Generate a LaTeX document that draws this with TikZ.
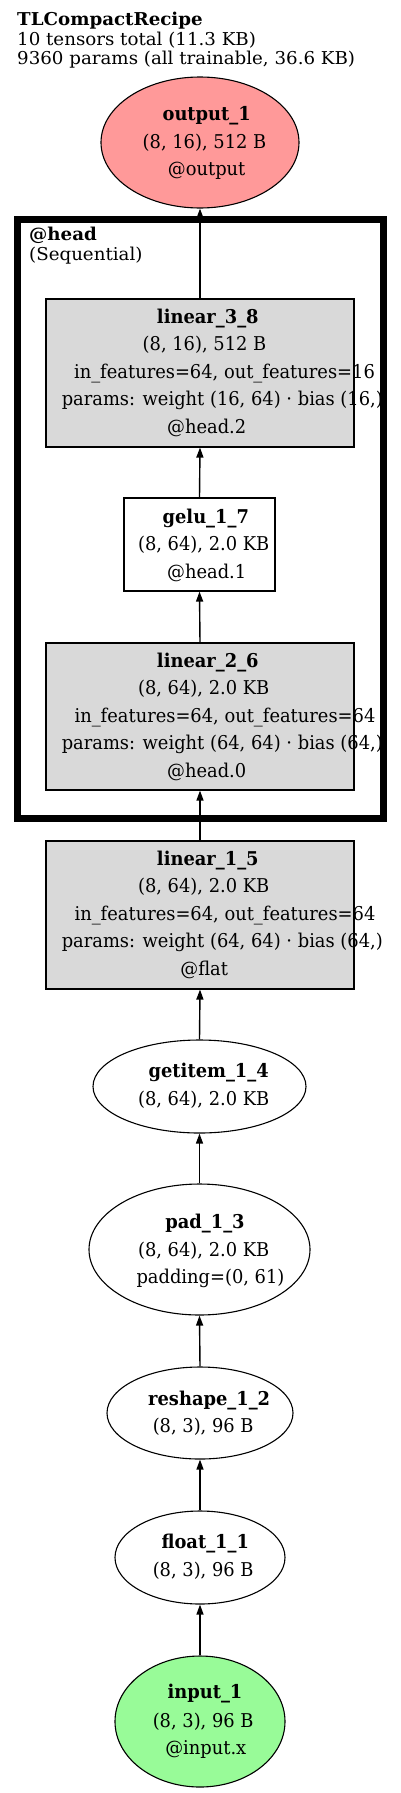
\documentclass[tikz,border=0pt]{standalone}
\usepackage{fontspec}
\setmainfont{DejaVu Serif}[FakeStretch=0.94]
\newfontfamily\titlefont{DejaVu Serif}[FakeStretch=1.03]
\usetikzlibrary{shapes.geometric,arrows.meta}
\definecolor{outfill}{HTML}{FF9999}
\definecolor{infill}{HTML}{98FB98}
\definecolor{modfill}{HTML}{D9D9D9}
\tikzset{
  lbl/.style={anchor=base, inner sep=0pt, font=\fontsize{19}{22}\selectfont},
  ttl/.style={anchor=base west, inner sep=0pt, font=\titlefont\fontsize{17.7}{20}\selectfont},
  oval/.style={ellipse, draw, line width=1.1pt, inner sep=0pt},
  box/.style={rectangle, draw, line width=1.1pt, inner sep=0pt},
  edge/.style={line width=1.4pt, -{Triangle[length=10pt,width=7pt]}},
}
\begin{document}
\begin{tikzpicture}[x=1pt,y=-1pt]
\useasboundingbox (0,0) rectangle (400,1793);
% title
\node[ttl] (t1) at (17,25.7) {\bfseries TLCompactRecipe};
\node[ttl] (t2) at (17,45.5) {10 tensors total (11.3 KB)};
\node[ttl] (t3) at (17,65) {9360 params (all trainable, 36.6 KB)};

% shapes
\node[oval, fill=outfill, minimum width=198, minimum height=131] (out) at (200,142.5) {};
\node[box, fill=modfill, minimum width=308, minimum height=148] (l38) at (200,373) {};
\node[box, fill=white, minimum width=151, minimum height=93] (gelu) at (199.5,544.5) {};
\node[box, fill=modfill, minimum width=308, minimum height=147] (l26) at (200,716.5) {};
\node[box, fill=modfill, minimum width=308, minimum height=148] (l15) at (200,915) {};
\node[oval, fill=white, minimum width=213, minimum height=93] (get) at (199.5,1086.5) {};
\node[oval, fill=white, minimum width=221, minimum height=131] (pad) at (199.5,1249.5) {};
\node[oval, fill=white, minimum width=186, minimum height=92] (resh) at (200,1413) {};
\node[oval, fill=white, minimum width=170, minimum height=93] (flt) at (200,1557.5) {};
\node[oval, fill=infill, minimum width=170, minimum height=131] (inp) at (200,1721.5) {};

% edges
\draw[edge] (inp.north) -- (flt.south);
\draw[edge] (flt.north) -- (resh.south);
\draw[edge] (resh.north) -- (pad.south);
\draw[edge] (pad.north) -- (get.south);
\draw[edge] (get.north) -- (l15.south);
\draw[edge] (l15.north) -- (l26.south);
\draw[edge] (l26.north) -- (gelu.south);
\draw[edge] (gelu.north) -- (l38.south);
\draw[edge] (l38.north) -- (out.south);

% texts
\node[lbl] (outa) at (206.7,120) {\bfseries output\_1};
\node[lbl] (outb) at (204.5,148.5) {(8, 16), 512 B};
\node[lbl] (outc) at (206.7,175.5) {@output};

\node[lbl] (l38a) at (207.8,323) {\bfseries linear\_3\_8};
\node[lbl] (l38b) at (204.5,350.5) {(8, 16), 512 B};
\node[lbl] (l38c) at (224.5,378) {in\_features=64, out\_features=16};
\node[lbl] (l38d) at (222.3,405.5) {params: weight (16, 64) · bias (16,)};
\node[lbl] (l38e) at (206.7,433) {@head.2};

\node[lbl] (gela) at (205.8,523) {\bfseries gelu\_1\_7};
\node[lbl] (gelb) at (203.7,550.5) {(8, 64), 2.0 KB};
\node[lbl] (gelc) at (206.7,578) {@head.1};

\node[lbl] (l26a) at (207.8,667) {\bfseries linear\_2\_6};
\node[lbl] (l26b) at (203.7,694.5) {(8, 64), 2.0 KB};
\node[lbl] (l26c) at (225,722) {in\_features=64, out\_features=64};
\node[lbl] (l26d) at (222.3,749.5) {params: weight (64, 64) · bias (64,)};
\node[lbl] (l26e) at (206.7,777) {@head.0};

\node[lbl] (l15a) at (207.8,865) {\bfseries linear\_1\_5};
\node[lbl] (l15b) at (203.7,892.5) {(8, 64), 2.0 KB};
\node[lbl] (l15c) at (225,920) {in\_features=64, out\_features=64};
\node[lbl] (l15d) at (222.3,947.5) {params: weight (64, 64) · bias (64,)};
\node[lbl] (l15e) at (204.2,975) {@flat};

\node[lbl] (geta) at (208.7,1077) {\bfseries getitem\_1\_4};
\node[lbl] (getb) at (203.7,1105) {(8, 64), 2.0 KB};

\node[lbl] (pada) at (205,1228.5) {\bfseries pad\_1\_3};
\node[lbl] (padb) at (203.7,1256) {(8, 64), 2.0 KB};
\node[lbl] (padc) at (210.5,1283.5) {padding=(0, 61)};

\node[lbl] (resa) at (209.2,1405) {\bfseries reshape\_1\_2};
\node[lbl] (resb) at (203.2,1432) {(8, 3), 96 B};

\node[lbl] (flta) at (205.3,1548) {\bfseries float\_1\_1};
\node[lbl] (fltb) at (203.2,1576) {(8, 3), 96 B};

\node[lbl] (inpa) at (205,1698) {\bfseries input\_1};
\node[lbl] (inpb) at (203.2,1727) {(8, 3), 96 B};
\node[lbl] (inpc) at (205.8,1754) {@input.x};

% cluster
\draw[line width=7pt] (17,219.5) rectangle (383,818.5);
\node[ttl] (hda) at (29,240) {\bfseries @head};
\node[ttl] (hdb) at (29,260) {(Sequential)};
\end{tikzpicture}
\end{document}
